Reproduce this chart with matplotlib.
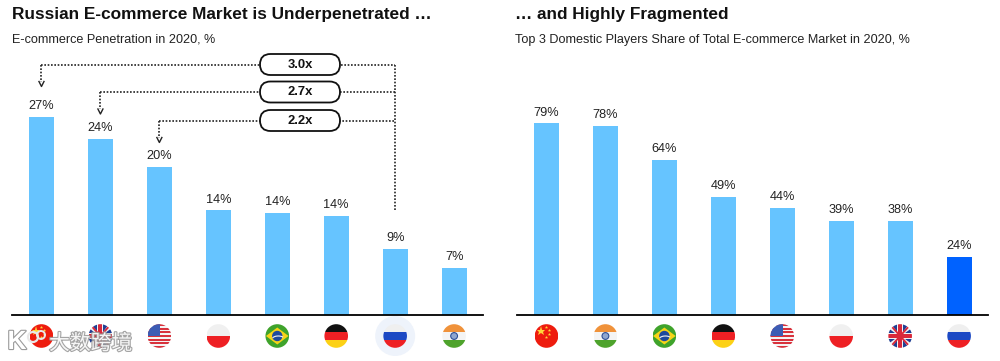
import numpy as np
import matplotlib
matplotlib.use('Agg')
import matplotlib.pyplot as plt
import matplotlib.patheffects as pe
from matplotlib.patches import Circle, FancyBboxPatch, Polygon, Rectangle, Arc

plt.rcParams['font.family'] = ['Liberation Sans', 'Noto Sans CJK SC', 'DejaVu Sans']

left_flags = ['cn', 'uk', 'us', 'pl', 'br', 'de', 'ru', 'in']
left_values = [27.0, 24.0, 20.1, 14.2, 13.8, 13.4, 8.9, 6.4]
left_labels = ['27%', '24%', '20%', '14%', '14%', '14%', '9%', '7%']

right_flags = ['cn', 'in', 'br', 'de', 'us', 'pl', 'uk', 'ru']
right_values = [79.0, 78.0, 63.9, 48.6, 44.0, 38.7, 38.7, 23.8]
right_labels = ['79%', '78%', '64%', '49%', '44%', '39%', '38%', '24%']

multiples = ['3.0x', '2.7x', '2.2x']

light = '#66c4ff'
dark = '#0062ff'
W, H = 1000, 361
base_y = 314.5
flag_y = 336
flag_r = 11.8


def make_axes(x0, x1, top):
    return fig.add_axes([x0/W, 1-base_y/H, (x1-x0)/W, (base_y-top)/H])


def draw_bars(ax, values, labels, colors, ymax):
    xs = np.arange(len(values))
    ax.bar(xs, values, width=0.425, color=colors)
    ax.set_xlim(-0.5, 7.49)
    ax.set_ylim(0, ymax)
    for s in ['top', 'left', 'right']:
        ax.spines[s].set_visible(False)
    ax.spines['bottom'].set_linewidth(1.3)
    ax.spines['bottom'].set_color('black')
    ax.set_xticks([])
    ax.set_yticks([])
    ax.patch.set_alpha(0)
    for x, v, t in zip(xs, values, labels):
        ax.annotate(t, (x, v), xytext=(0, 3.5), textcoords='offset points',
                    ha='center', va='bottom', fontsize=9.2, color='#222222')


def px_x(ax, x):
    return ax.transData.transform((x, 0))[0]


def flag(ov, cx, cy, name, r=flag_r):
    clip = Circle((cx, cy), r, transform=ov.transData)

    def band(y0, y1, c, x0=-r, x1=r):
        p = Rectangle((cx+x0, cy+y0), x1-x0, y1-y0, fc=c, ec='none', zorder=4)
        ov.add_patch(p)
        p.set_clip_path(clip)

    def poly(pts, c):
        p = Polygon([(cx+a, cy+b) for a, b in pts], fc=c, ec='none', zorder=5)
        ov.add_patch(p)
        p.set_clip_path(clip)

    if name == 'cn':
        band(-r, r, '#ee1c0e')
        ov.plot(cx-5, cy-5, marker='*', ms=6.5, color='#ffd83a', mew=0, zorder=6)
        for a, b in [(0, -9), (3, -6), (3, -2), (0, 1)]:
            ov.plot(cx+a, cy+b, marker='*', ms=2.5, color='#ffd83a', mew=0, zorder=6)
    elif name == 'uk':
        band(-r, r, '#f2f2f2')
        for sx, sy in [(-1, -1), (1, -1), (-1, 1), (1, 1)]:
            poly([(sx*3, sy*4), (sx*3, sy*r), (sx*9, sy*r)], '#1f3f94')
            poly([(sx*5, sy*3), (sx*r, sy*3), (sx*r, sy*8)], '#1f3f94')
        for s in [-1, 1]:
            poly([(s*r, -r), (s*(r-2.5), -r), (-s*r, r), (-s*(r-2.5), r)], '#d9283a')
        band(-2, 2, '#d9283a')
        band(-r, r, '#d9283a', -2, 2)
    elif name == 'us':
        band(-r, r, '#f4f4f4')
        for i in range(0, 7):
            y0 = -r + i*2*r/6.5
            band(y0, y0+r/6.5, '#d8323c')
        band(-r, -0.5, '#3c5cb4', -r, 1)
    elif name == 'pl':
        band(-r, 0, '#f0f0f0')
        band(0, r, '#ee2024')
    elif name == 'br':
        band(-r, r, '#3fa32b')
        poly([(-r+0.5, 0), (0, -8.5), (r-0.5, 0), (0, 8.5)], '#f7d417')
        ov.add_patch(Circle((cx, cy), 5.2, fc='#1d4a9e', ec='none', zorder=6))
        ov.add_patch(Arc((cx+1, cy+3), 12, 6, theta1=190, theta2=340, ec='#f2f2f2', lw=0.8, zorder=7))
    elif name == 'de':
        band(-r, -r/3, '#111111')
        band(-r/3, r/3, '#ee2024')
        band(r/3, r, '#fcd116')
    elif name == 'ru':
        band(-r, -r/3, '#efefef')
        band(-r/3, r/3, '#1c49c4')
        band(r/3, r, '#ee2024')
    elif name == 'in':
        band(-r, -r/3, '#f0923a')
        band(-r/3, r/3, '#f4f4f4')
        band(r/3, r, '#4ea32c')
        ov.add_patch(Circle((cx, cy), 3.4, fc='#8fa6cf', ec='#2f4f96', lw=0.8, zorder=6))


fig = plt.figure(figsize=(W/100, H/100), dpi=100)

ax1 = make_axes(12, 483, 40)
ax2 = make_axes(517, 988, 40)
draw_bars(ax1, left_values, left_labels, [light]*8, 274.5/7.33)
draw_bars(ax2, right_values, right_labels, [light]*7+[dark], 274.5/2.418)

# overlay in pixel coordinates for the flags, the callouts and the texts
ov = fig.add_axes([0, 0, 1, 1])
ov.set_xlim(0, W)
ov.set_ylim(H, 0)
ov.axis('off')
ov.patch.set_alpha(0)

ov.text(12, 14.5, 'Russian E-commerce Market is Underpenetrated …', fontsize=12.4,
        fontweight='bold', va='center', ha='left', color='#111111')
ov.text(515, 14.5, '… and Highly Fragmented', fontsize=12.4,
        fontweight='bold', va='center', ha='left', color='#111111')
ov.text(12, 39.5, 'E-commerce Penetration in 2020, %', fontsize=9.1,
        va='center', ha='left', color='#222222')
ov.text(515, 39.5, 'Top 3 Domestic Players Share of Total E-commerce Market in 2020, %',
        fontsize=9.1, va='center', ha='left', color='#222222')

ov.add_patch(Circle((px_x(ax1, 6), flag_y), 20, fc='#eef3fb', ec='none', zorder=2))
for i, n in enumerate(left_flags):
    flag(ov, px_x(ax1, i), flag_y, n)
for i, n in enumerate(right_flags):
    flag(ov, px_x(ax2, i), flag_y, n)

# dotted callouts
dot = dict(color='#222222', lw=1.2, ls=(0, (1, 1)), zorder=3)
rus_x = px_x(ax1, 6)
ov.plot([rus_x, rus_x], [65, 210], **dot)
for i, (t, y) in enumerate(zip(multiples, [64.5, 92, 120.5])):
    x = px_x(ax1, i)
    ov.plot([x, rus_x], [y, y], **dot)
    ov.plot([x, x], [y, y+17], **dot)
    ov.plot([x-2.5, x, x+2.5], [y+17, y+22, y+17], color='#222222', lw=1, zorder=3)
    ov.add_patch(FancyBboxPatch((269, y-1.5-7), 62, 17, boxstyle='round,pad=0,rounding_size=8.5',
                                fc='white', ec='none', zorder=4, mutation_aspect=1))
    ov.add_patch(FancyBboxPatch((260+9, y-10+1.5), 80-18, 20-3,
                                boxstyle='round,pad=9,rounding_size=9.5', fc='white', ec='none', zorder=4)
                 if False else
                 FancyBboxPatch((260, y-10.5), 80, 21, boxstyle='round,pad=0,rounding_size=10.5',
                                fc='white', ec='#111111', lw=1.3, zorder=4))
    ov.text(300, y, t, fontsize=9.4, fontweight='bold', ha='center', va='center', color='#111111', zorder=5)

# watermark
halo = [pe.withStroke(linewidth=1.6, foreground='#9a9a9a')]
ov.text(49, 343.5, '大数跨境', fontsize=15, ha='left', va='center', color='white',
        alpha=0.9, path_effects=halo, zorder=8)
ov.text(17, 342, 'K', fontsize=19, fontweight='bold', ha='center', va='center', color='white',
        path_effects=halo, zorder=8)
ov.add_patch(Circle((33, 337), 5, fc='none', ec='#e8e8e8', lw=1.6, zorder=8))
ov.add_patch(Circle((41, 335), 4, fc='none', ec='#e8e8e8', lw=1.4, zorder=8))

fig.savefig('out.png', dpi=100)
